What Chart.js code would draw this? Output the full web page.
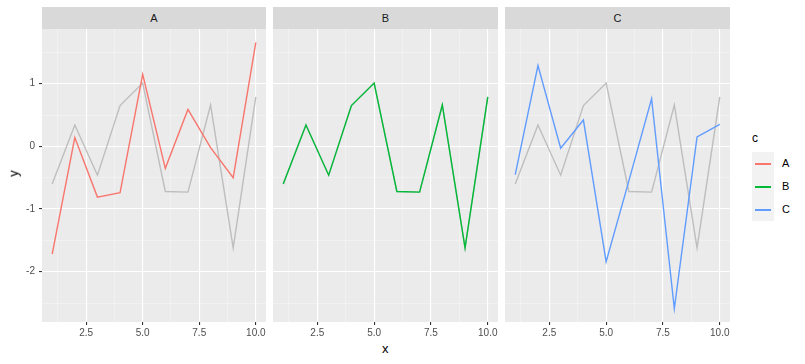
<!DOCTYPE html>
<html>
<head>
<meta charset="utf-8">
<script src="https://cdn.jsdelivr.net/npm/chart.js@4/dist/chart.umd.min.js"></script>
<style>
  body { margin: 0; width: 805px; height: 364px; background: #fff; position: relative; overflow: hidden;
         font-family: "Liberation Sans", Arial, sans-serif; }
  canvas { position: absolute; }
  .strip { position: absolute; top: 7px; height: 22px; background: #D9D9D9; color: #1A1A1A;
           font-size: 11px; line-height: 22px; text-align: center; }
  .title { position: absolute; color: #000; font-size: 13px; }
  .key { position: absolute; left: 752px; width: 22px; height: 23px; background: #F2F2F2; }
  .key span { position: absolute; left: 3px; right: 3px; top: 11px; height: 1.5px; }
  .klab { position: absolute; left: 782px; font-size: 11px; color: #000; }
</style>
</head>
<body>
<div class="strip" style="left:42px;width:224px">A</div>
<div class="strip" style="left:273px;width:225px">B</div>
<div class="strip" style="left:505px;width:225px">C</div>
<canvas id="pA" width="266" height="311" style="left:0;top:29px"></canvas>
<canvas id="pB" width="225" height="311" style="left:273px;top:29px"></canvas>
<canvas id="pC" width="225" height="311" style="left:505px;top:29px"></canvas>
<div class="title" style="left:382px;top:341px">x</div>
<div class="title" style="left:10px;top:166px;transform:rotate(-90deg)">y</div>
<div class="title" style="left:752px;top:131px;font-size:12px">c</div>
<div id="legend"></div>
<script>
// data
const xs = [1, 2, 3, 4, 5, 6, 7, 8, 9, 10];
const yA = [-1.72, 0.14, -0.81, -0.74, 1.15, -0.35, 0.59, -0.02, -0.50, 1.66];
const yB = [-0.60, 0.34, -0.46, 0.65, 1.01, -0.72, -0.73, 0.66, -1.62, 0.79];
const yC = [-0.45, 1.29, -0.03, 0.42, -1.84, -0.55, 0.76, -2.59, 0.15, 0.35];
const groups = ['A', 'B', 'C'];
const colors = ['#F8766D', '#00BA38', '#619CFF'];
const backColor = '#BEBEBE';
const xTicks = [1.25, 2.5, 3.75, 5, 6.25, 7.5, 8.75, 10];
const yTicks = [-2.5, -2, -1.5, -1, -0.5, 0, 0.5, 1, 1.5];

const X_MIN = 0.55, X_MAX = 10.45;
const Y_MIN = -2.8025, Y_MAX = 1.8725;
const FONT = { family: '"Liberation Sans", Arial, sans-serif', size: 10 };

const panelBg = {
  id: 'panelBg',
  beforeDraw(chart) {
    const a = chart.chartArea, ctx = chart.ctx;
    ctx.save();
    ctx.fillStyle = '#EBEBEB';
    ctx.fillRect(a.left, a.top, a.right - a.left, a.bottom - a.top);
    ctx.restore();
  }
};

const isMajorX = v => Math.abs(v / 2.5 - Math.round(v / 2.5)) < 1e-9;
const isMajorY = v => Number.isInteger(v);

function toPoints(ys) {
  return xs.map((x, i) => ({ x, y: ys[i] }));
}

// order: lower draws on top in Chart.js
function lineSet(ys, color, order) {
  return {
    data: toPoints(ys),
    borderColor: color,
    borderWidth: 1.4,
    pointRadius: 0,
    tension: 0,
    fill: false,
    order
  };
}

function makePanel(id, series, showY) {
  const datasets = [
    lineSet(yB, backColor, 2),
    lineSet(series.ys, series.color, 1)
  ];

  return new Chart(document.getElementById(id), {
    type: 'line',
    data: { datasets },
    plugins: [panelBg],
    options: {
      responsive: false,
      animation: false,
      devicePixelRatio: 1,
      layout: { padding: 0 },
      plugins: { legend: { display: false }, tooltip: { enabled: false } },
      scales: {
        x: {
          type: 'linear',
          min: X_MIN,
          max: X_MAX,
          border: { display: false },
          afterBuildTicks: s => { s.ticks = xTicks.map(v => ({ value: v })); },
          afterFit: s => { s.height = 18; s.paddingLeft = 0; s.paddingRight = 0; },
          grid: {
            color: c => isMajorX(c.tick.value) ? '#FFFFFF' : 'rgba(255,255,255,0.55)',
            lineWidth: c => isMajorX(c.tick.value) ? 1.1 : 0.6,
            tickColor: c => isMajorX(c.tick.value) ? '#333333' : 'rgba(0,0,0,0)',
            tickLength: 3
          },
          ticks: {
            autoSkip: false,
            maxRotation: 0,
            padding: 2,
            color: '#4D4D4D',
            font: FONT,
            callback: v => isMajorX(v) ? v.toFixed(1) : ''
          }
        },
        y: {
          type: 'linear',
          min: Y_MIN,
          max: Y_MAX,
          border: { display: false },
          afterBuildTicks: s => { s.ticks = yTicks.map(v => ({ value: v })); },
          afterFit: s => { s.width = showY ? 42 : 0; s.paddingTop = 0; s.paddingBottom = 0; },
          grid: {
            color: c => isMajorY(c.tick.value) ? '#FFFFFF' : 'rgba(255,255,255,0.55)',
            lineWidth: c => isMajorY(c.tick.value) ? 1.1 : 0.6,
            tickColor: c => isMajorY(c.tick.value) ? '#333333' : 'rgba(0,0,0,0)',
            tickLength: 3,
            drawTicks: showY
          },
          ticks: {
            display: showY,
            padding: 4,
            color: '#4D4D4D',
            font: FONT,
            callback: v => isMajorY(v) ? String(v) : ''
          }
        }
      }
    }
  });
}

makePanel('pA', { ys: yA, color: colors[0] }, true);
makePanel('pB', { ys: yB, color: colors[1] }, false);
makePanel('pC', { ys: yC, color: colors[2] }, false);

// legend
const legend = document.getElementById('legend');
groups.forEach((g, i) => {
  const top = 152 + i * 23;
  legend.insertAdjacentHTML('beforeend',
    `<div class="key" style="top:${top}px"><span style="background:${colors[i]}"></span></div>` +
    `<div class="klab" style="top:${top + 5}px">${g}</div>`);
});
</script>
</body>
</html>
